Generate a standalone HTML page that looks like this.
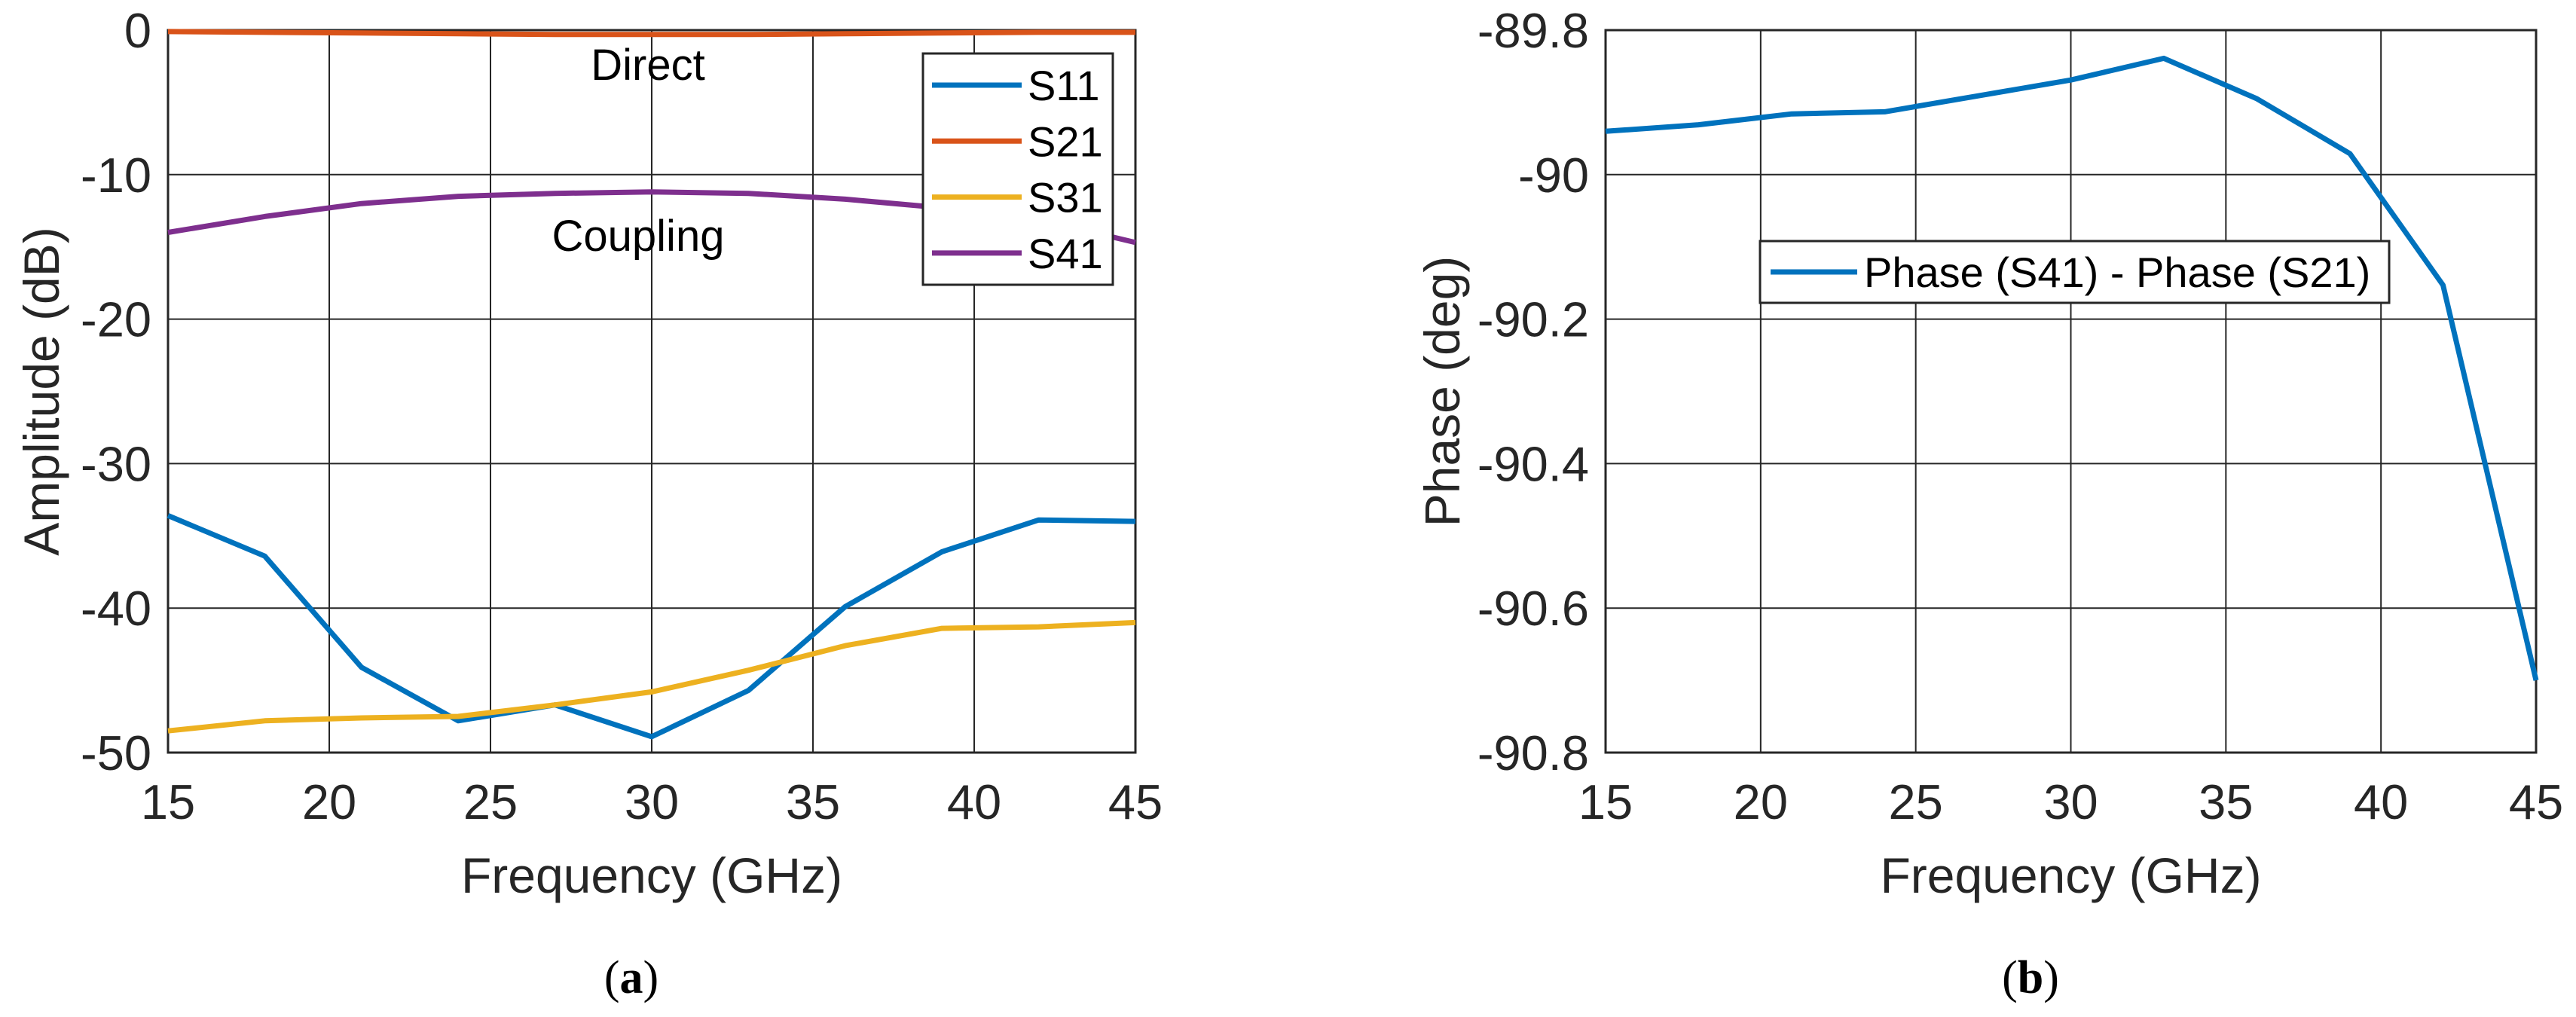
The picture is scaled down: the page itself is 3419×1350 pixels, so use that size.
<!DOCTYPE html>
<html><head><meta charset="utf-8"><style>
html,body{margin:0;padding:0;background:#fff;}
svg{display:block;font-family:"Liberation Sans",Arial,sans-serif;}
</style></head><body>
<svg id="fig" width="3419" height="1350" viewBox="0 0 3419 1350" xmlns="http://www.w3.org/2000/svg">
<g id="left"></g>
<g id="right"></g>
<text x="838" y="1318" font-family="'Liberation Serif',serif" font-size="62" text-anchor="middle">(<tspan font-weight="bold">a</tspan>)</text>
<text x="2695" y="1318" font-family="'Liberation Serif',serif" font-size="62" text-anchor="middle">(<tspan font-weight="bold">b</tspan>)</text>
</svg>
<script>
const freqs = [15,18,21,24,27,30,33,36,39,42,45];
const s11 = [-33.6,-36.4,-44.1,-47.8,-46.7,-48.9,-45.7,-39.9,-36.1,-33.9,-34.0];
const s21 = [-0.1,-0.15,-0.2,-0.25,-0.3,-0.3,-0.3,-0.25,-0.2,-0.15,-0.15];
const s31 = [-48.5,-47.8,-47.6,-47.5,-46.7,-45.8,-44.3,-42.6,-41.4,-41.3,-41.0];
const s41 = [-14.0,-12.9,-12.0,-11.5,-11.3,-11.2,-11.3,-11.7,-12.3,-13.1,-14.7];
const phaseDiff = [-89.940,-89.931,-89.916,-89.913,-89.891,-89.869,-89.839,-89.895,-89.971,-90.153,-90.700];
const xTicks = [15,20,25,30,35,40,45];
const ampTicks = [0,-10,-20,-30,-40,-50];
const ampTickLabels = ["0","-10","-20","-30","-40","-50"];
const phaseTicks = [-89.8,-90,-90.2,-90.4,-90.6,-90.8];
const phaseTickLabels = ["-89.8","-90","-90.2","-90.4","-90.6","-90.8"];

const NS="http://www.w3.org/2000/svg";
function mk(tag, attrs, parent){const e=document.createElementNS(NS,tag);for(const k in attrs)e.setAttribute(k,attrs[k]);parent.appendChild(e);return e;}

function drawAxes(g, box, yMin, yMax, yTicks, yLabels, yTitle, yTitleX){
  const sx=v=>box.x0+(v-15)/(45-15)*(box.x1-box.x0);
  const sy=v=>box.y0+(yMax-v)/(yMax-yMin)*(box.y1-box.y0);
  xTicks.forEach(t=>{
    const l=mk('line',{x1:sx(t),x2:sx(t),y1:box.y0,y2:box.y1,stroke:'#262626','stroke-width':2},g);
    
    
    const tx=mk('text',{x:sx(t),y:1087,'font-size':65,'text-anchor':'middle',fill:'#262626'},g);
    tx.textContent=t;
    
    
  });
  yTicks.forEach((t,i)=>{
    const l=mk('line',{x1:box.x0,x2:box.x1,y1:sy(t),y2:sy(t),stroke:'#262626','stroke-width':2},g);
    
    
    const tx=mk('text',{x:box.x0-22,y:sy(t)+23,'font-size':65,'text-anchor':'end',fill:'#262626'},g);
    tx.textContent=yLabels[i];
    
    
  });
  const r=mk('rect',{x:box.x0,y:box.y0,width:box.x1-box.x0,height:box.y1-box.y0,fill:'none',stroke:'#262626','stroke-width':3},g);
  
  
  const xt=mk('text',{x:(box.x0+box.x1)/2,y:1185,'font-size':66,'text-anchor':'middle',fill:'#262626'},g);
  xt.textContent='Frequency (GHz)';
  
  
  const cy=(box.y0+box.y1)/2;
  const yt=mk('text',{x:yTitleX,y:cy,'font-size':66,'text-anchor':'middle',fill:'#262626',transform:`rotate(-90 ${yTitleX} ${cy})`},g);
  yt.textContent=yTitle;
  
  
  return {sx,sy};
}
function series(g, sc, vals, color, name){
  const d=vals.map((v,i)=>(i?'L':'M')+sc.sx(freqs[i]).toFixed(1)+','+sc.sy(v).toFixed(1)).join(' ');
  const p=mk('path',{d:d,fill:'none',stroke:color,'stroke-width':7,'stroke-linejoin':'round'},g);
  
  
}

const L=document.getElementById('left');
const boxL={x0:223,x1:1507,y0:40,y1:999};
const scL=drawAxes(L,boxL,-50,0,ampTicks,ampTickLabels,'Amplitude (dB)',78);
series(L,scL,s11,'#0072BD','s11-line');
series(L,scL,s31,'#EDB120','s31-line');
series(L,scL,s41,'#7E2F8E','s41-line');
series(L,scL,s21,'#D95319','s21-line');
let t=mk('text',{x:860,y:106,'font-size':58,'text-anchor':'middle'},L);t.textContent='Direct';


t=mk('text',{x:847,y:333,'font-size':58,'text-anchor':'middle'},L);t.textContent='Coupling';


const lg=mk('g',{},L);


mk('rect',{x:1225,y:71,width:252,height:307,fill:'#fff',stroke:'#262626','stroke-width':3},lg);
const legNames=['S11','S21','S31','S41'];
const legColors=['#0072BD','#D95319','#EDB120','#7E2F8E'];
legNames.forEach((n,i)=>{
  const y=113+i*74.3;
  const ln=mk('line',{x1:1237,x2:1356,y1:y,y2:y,stroke:legColors[i],'stroke-width':7},lg);
  
  
  const tx=mk('text',{x:1364,y:y+20,'font-size':56},lg);tx.textContent=n;
  
  
});

const R=document.getElementById('right');
const boxR={x0:2131,x1:3366,y0:40,y1:999};
const scR=drawAxes(R,boxR,-90.8,-89.8,phaseTicks,phaseTickLabels,'Phase (deg)',1937);
series(R,scR,phaseDiff,'#0072BD','phase-difference-line');
const lg2=mk('g',{},R);


mk('rect',{x:2336,y:320,width:835,height:82,fill:'#fff',stroke:'#262626','stroke-width':3},lg2);
const l2=mk('line',{x1:2350,x2:2465,y1:361,y2:361,stroke:'#0072BD','stroke-width':7},lg2);


const t2=mk('text',{x:2474,y:381,'font-size':56},lg2);t2.textContent='Phase (S41) - Phase (S21)';


</script>
</body></html>
